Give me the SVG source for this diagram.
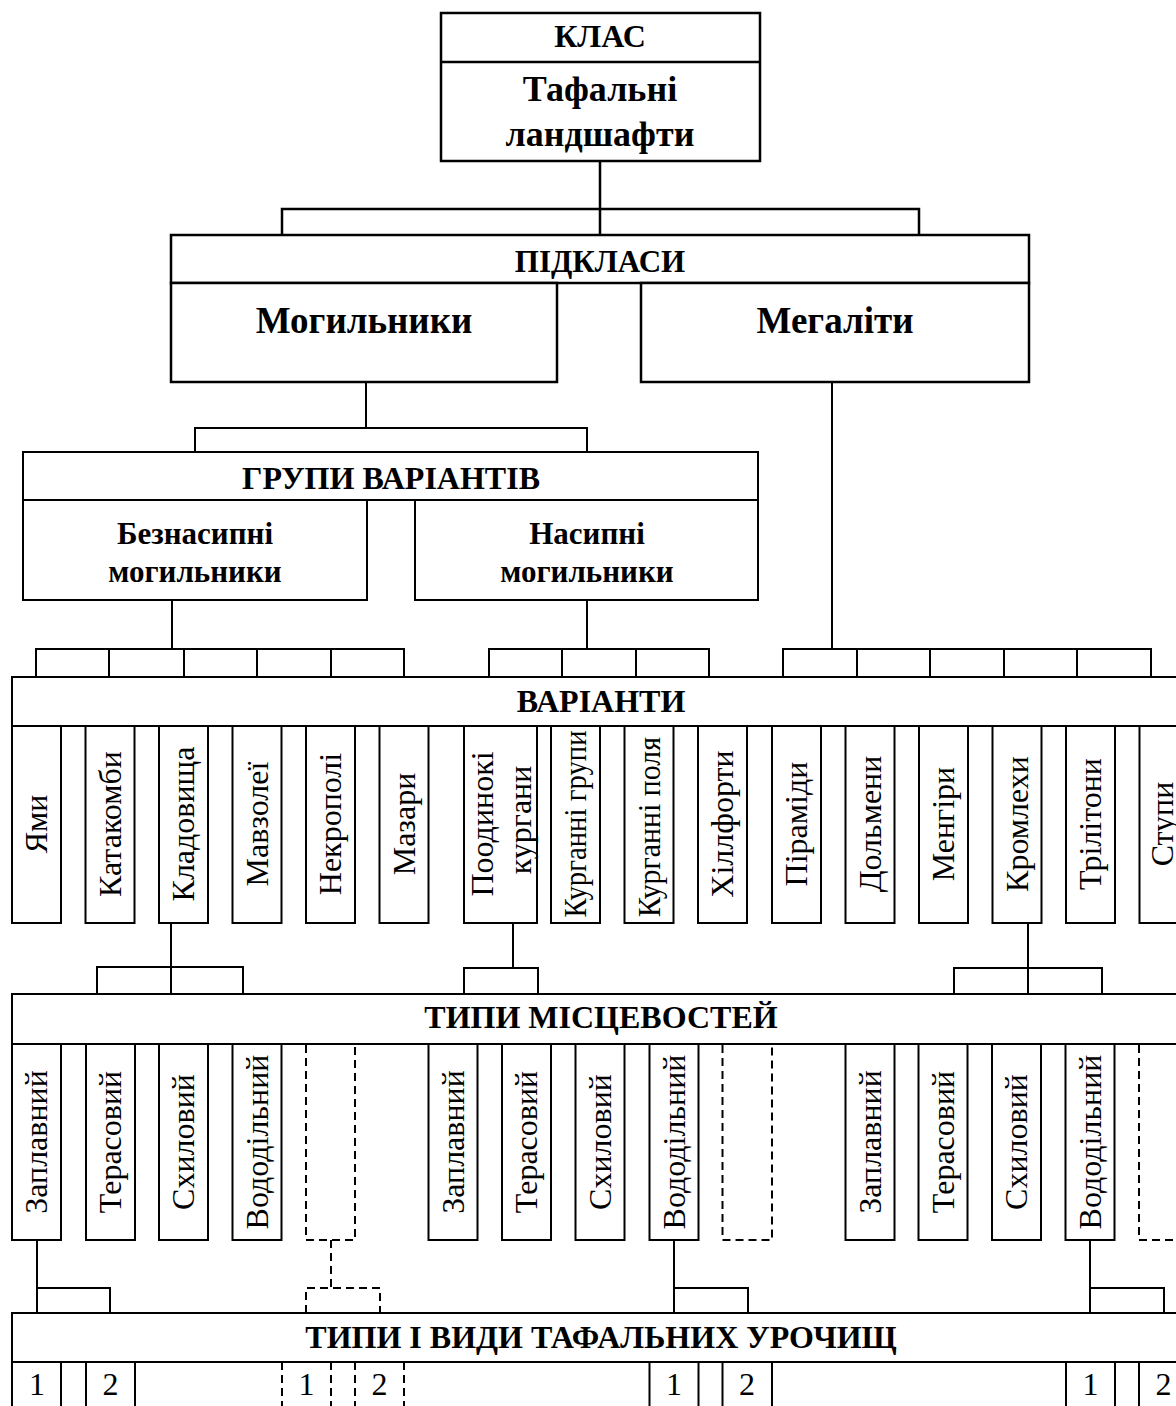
<svg xmlns="http://www.w3.org/2000/svg" width="1176" height="1406" viewBox="0 0 1176 1406">
<style>
.box{fill:#fff;stroke:#000;stroke-width:2}
.tb{fill:#fff;stroke:#000;stroke-width:2.5}
.dbox{fill:none;stroke:#000;stroke-width:2;stroke-dasharray:8 5}
.ln{fill:none;stroke:#000;stroke-width:2}
.tl{fill:none;stroke:#000;stroke-width:2.5}
.dl{fill:none;stroke:#000;stroke-width:2;stroke-dasharray:8 5}
.h{font-family:"Liberation Serif","Times New Roman",serif;font-weight:bold;text-anchor:middle;fill:#000}
.v{font-family:"Liberation Serif","Times New Roman",serif;font-size:32px;text-anchor:middle;fill:#000}
.n{font-family:"Liberation Serif","Times New Roman",serif;font-size:32px;text-anchor:middle;fill:#000}
</style>
<rect width="1176" height="1406" fill="#fff"/>

<g id="connectors">
<path class="tl" d="M600,161V235M282,235V209H919V235"/>
<path class="ln" d="M366,382V428M195,452V428H587V452"/>
<path class="ln" d="M172,600V649M36,677V649H404V677M109,649V677M184,649V677M257,649V677M331,649V677"/>
<path class="ln" d="M587,600V649M489,677V649H709V677M562,649V677M636,649V677"/>
<path class="ln" d="M832,382V649M783,677V649H1151V677M857,649V677M930,649V677M1004,649V677M1077,649V677"/>
<path class="ln" d="M171,923V994M97,994V967H243V994"/>
<path class="ln" d="M513,923V968M464,994V968H538V994"/>
<path class="ln" d="M1028,923V994M954,994V968H1102V994"/>
<path class="ln" d="M37,1240V1313M37,1288H110V1313"/>
<path class="dl" d="M331,1240V1288M306,1313V1288H380V1313"/>
<path class="ln" d="M674,1240V1313M674,1288H748V1313"/>
<path class="ln" d="M1090,1240V1313M1090,1288H1164V1313"/>
</g>

<g id="class">
<rect class="tb" x="441" y="13" width="319" height="148"/>
<line class="tl" x1="441" y1="62" x2="760" y2="62"/>
<text class="h" x="600" y="47" font-size="32">КЛАС</text>
<text class="h" x="600" y="101" font-size="36">Тафальні</text>
<text class="h" x="600" y="146" font-size="36">ландшафти</text>
</g>

<g id="subclasses">
<rect class="tb" x="171" y="235" width="858" height="48"/>
<text class="h" x="600" y="272" font-size="31">ПІДКЛАСИ</text>
</g>
<g id="mohylnyky">
<rect class="tb" x="171" y="283" width="386" height="99"/>
<text class="h" x="364" y="333" font-size="37">Могильники</text>
</g>
<g id="mehality">
<rect class="tb" x="641" y="283" width="388" height="99"/>
<text class="h" x="835" y="333" font-size="37">Мегаліти</text>
</g>

<g id="groups">
<rect class="box" x="23" y="452" width="735" height="48"/>
<text class="h" x="391" y="489" font-size="32">ГРУПИ ВАРІАНТІВ</text>
</g>
<g id="beznasypni">
<rect class="box" x="23" y="500" width="344" height="100"/>
<text class="h" x="195" y="544" font-size="31">Безнасипні</text>
<text class="h" x="195" y="582" font-size="31">могильники</text>
</g>
<g id="nasypni">
<rect class="box" x="415" y="500" width="343" height="100"/>
<text class="h" x="587" y="544" font-size="31">Насипні</text>
<text class="h" x="587" y="582" font-size="31">могильники</text>
</g>

<g id="variants">
<rect class="box" x="12" y="677" width="1180" height="49"/>
<text class="h" x="601" y="712" font-size="32">ВАРІАНТИ</text>
</g>
<g id="v-yamy"><rect class="box" x="12" y="726" width="49" height="197"/><text class="v" transform="translate(36.5,824) rotate(-90)" dy="0.33em">Ями</text></g>
<g id="v-katakomby"><rect class="box" x="85.5" y="726" width="49" height="197"/><text class="v" transform="translate(110,824) rotate(-90)" dy="0.33em">Катакомби</text></g>
<g id="v-kladovyshcha"><rect class="box" x="159" y="726" width="49" height="197"/><text class="v" transform="translate(183.5,824) rotate(-90)" dy="0.33em">Кладовища</text></g>
<g id="v-mavzolei"><rect class="box" x="232.5" y="726" width="49" height="197"/><text class="v" transform="translate(257,824) rotate(-90)" dy="0.33em">Мавзолеї</text></g>
<g id="v-nekropoli"><rect class="box" x="306" y="726" width="49" height="197"/><text class="v" transform="translate(330.5,824) rotate(-90)" dy="0.33em">Некрополі</text></g>
<g id="v-mazary"><rect class="box" x="379.5" y="726" width="49" height="197"/><text class="v" transform="translate(404,824) rotate(-90)" dy="0.33em">Мазари</text></g>
<g id="v-poodynoki"><rect class="box" x="464" y="726" width="73" height="197"/><text class="v" transform="translate(482.5,824) rotate(-90)" dy="0.33em">Поодинокі</text><text class="v" transform="translate(520,820) rotate(-90)" dy="0.33em">кургани</text></g>
<g id="v-kurhanni-hrupy"><rect class="box" x="551" y="726" width="49" height="197"/><text class="v" transform="translate(575.5,824) rotate(-90)" dy="0.33em" textLength="187" lengthAdjust="spacingAndGlyphs">Курганні групи</text></g>
<g id="v-kurhanni-polia"><rect class="box" x="624.5" y="726" width="49" height="197"/><text class="v" transform="translate(649,827) rotate(-90)" dy="0.33em" textLength="180" lengthAdjust="spacingAndGlyphs">Курганні поля</text></g>
<g id="v-khillforty"><rect class="box" x="698" y="726" width="49" height="197"/><text class="v" transform="translate(722.5,824) rotate(-90)" dy="0.33em">Хіллфорти</text></g>
<g id="v-piramidy"><rect class="box" x="772" y="726" width="49" height="197"/><text class="v" transform="translate(796.5,824) rotate(-90)" dy="0.33em">Піраміди</text></g>
<g id="v-dolmeny"><rect class="box" x="845.5" y="726" width="49" height="197"/><text class="v" transform="translate(870,824) rotate(-90)" dy="0.33em">Дольмени</text></g>
<g id="v-menhiry"><rect class="box" x="919" y="726" width="49" height="197"/><text class="v" transform="translate(943.5,824) rotate(-90)" dy="0.33em">Менгіри</text></g>
<g id="v-kromlekhy"><rect class="box" x="992.5" y="726" width="49" height="197"/><text class="v" transform="translate(1017,824) rotate(-90)" dy="0.33em">Кромлехи</text></g>
<g id="v-trilitony"><rect class="box" x="1066" y="726" width="49" height="197"/><text class="v" transform="translate(1090.5,824) rotate(-90)" dy="0.33em">Трілітони</text></g>
<g id="v-stupy"><rect class="box" x="1139.5" y="726" width="49" height="197"/><text class="v" transform="translate(1162,824) rotate(-90)" dy="0.33em">Ступи</text></g>

<g id="terrain-types">
<rect class="box" x="12" y="994" width="1180" height="50"/>
<text class="h" x="601" y="1028" font-size="32">ТИПИ МІСЦЕВОСТЕЙ</text>
</g>
<g id="t1-zaplavnyi"><rect class="box" x="12" y="1044" width="49" height="196"/><text class="v" transform="translate(36.5,1142) rotate(-90)" dy="0.33em">Заплавний</text></g>
<g id="t1-terasovyi"><rect class="box" x="86" y="1044" width="49" height="196"/><text class="v" transform="translate(110.5,1142) rotate(-90)" dy="0.33em">Терасовий</text></g>
<g id="t1-skhylovyi"><rect class="box" x="159" y="1044" width="49" height="196"/><text class="v" transform="translate(183.5,1142) rotate(-90)" dy="0.33em">Схиловий</text></g>
<g id="t1-vododilnyi"><rect class="box" x="232.5" y="1044" width="49" height="196"/><text class="v" transform="translate(257,1142) rotate(-90)" dy="0.33em">Вододільний</text></g>
<g id="t1-empty"><path class="dbox" d="M306,1045V1240H355V1045"/></g>
<g id="t2-zaplavnyi"><rect class="box" x="428.5" y="1044" width="49" height="196"/><text class="v" transform="translate(453,1142) rotate(-90)" dy="0.33em">Заплавний</text></g>
<g id="t2-terasovyi"><rect class="box" x="502" y="1044" width="49" height="196"/><text class="v" transform="translate(526.5,1142) rotate(-90)" dy="0.33em">Терасовий</text></g>
<g id="t2-skhylovyi"><rect class="box" x="575.5" y="1044" width="49" height="196"/><text class="v" transform="translate(600,1142) rotate(-90)" dy="0.33em">Схиловий</text></g>
<g id="t2-vododilnyi"><rect class="box" x="649.5" y="1044" width="49" height="196"/><text class="v" transform="translate(674,1142) rotate(-90)" dy="0.33em">Вододільний</text></g>
<g id="t2-empty"><path class="dbox" d="M722.5,1045V1240H772V1045"/></g>
<g id="t3-zaplavnyi"><rect class="box" x="845.5" y="1044" width="49" height="196"/><text class="v" transform="translate(870,1142) rotate(-90)" dy="0.33em">Заплавний</text></g>
<g id="t3-terasovyi"><rect class="box" x="918.5" y="1044" width="49" height="196"/><text class="v" transform="translate(943,1142) rotate(-90)" dy="0.33em">Терасовий</text></g>
<g id="t3-skhylovyi"><rect class="box" x="992" y="1044" width="49" height="196"/><text class="v" transform="translate(1016.5,1142) rotate(-90)" dy="0.33em">Схиловий</text></g>
<g id="t3-vododilnyi"><rect class="box" x="1065.5" y="1044" width="49" height="196"/><text class="v" transform="translate(1090,1142) rotate(-90)" dy="0.33em">Вододільний</text></g>
<g id="t3-empty"><path class="dbox" d="M1139,1045V1240H1188V1045"/></g>

<g id="tract-types">
<rect class="box" x="12" y="1313" width="1180" height="49"/>
<text class="h" x="601" y="1348" font-size="32">ТИПИ І ВИДИ ТАФАЛЬНИХ УРОЧИЩ</text>
</g>
<g id="c1-1"><path class="ln" d="M12,1362V1410M61,1362V1410"/><text class="n" x="37" y="1395">1</text></g>
<g id="c1-2"><path class="ln" d="M86,1362V1410M135,1362V1410"/><text class="n" x="110.5" y="1395">2</text></g>
<g id="c2-1"><path class="dl" d="M282,1362V1410M331,1362V1410"/><text class="n" x="306.5" y="1395">1</text></g>
<g id="c2-2"><path class="dl" d="M355,1362V1410M404,1362V1410"/><text class="n" x="379.5" y="1395">2</text></g>
<g id="c3-1"><path class="ln" d="M649.5,1362V1410M698.5,1362V1410"/><text class="n" x="674" y="1395">1</text></g>
<g id="c3-2"><path class="ln" d="M722.5,1362V1410M772,1362V1410"/><text class="n" x="747" y="1395">2</text></g>
<g id="c4-1"><path class="ln" d="M1066,1362V1410M1115,1362V1410"/><text class="n" x="1090.5" y="1395">1</text></g>
<g id="c4-2"><path class="ln" d="M1139,1362V1410M1188,1362V1410"/><text class="n" x="1163.5" y="1395">2</text></g>
</svg>
